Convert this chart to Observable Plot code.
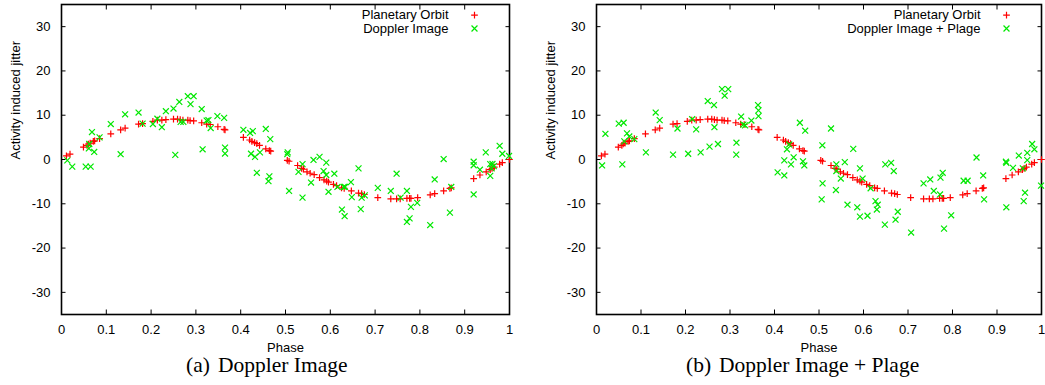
<!DOCTYPE html>
<html><head><meta charset="utf-8">
<script src="https://cdn.jsdelivr.net/npm/d3@7"></script>
<script src="https://cdn.jsdelivr.net/npm/@observablehq/plot@0.6"></script>
<style>
html,body{margin:0;padding:0;background:#fff;}
body{width:1045px;height:385px;overflow:hidden;position:relative;}
.panel{position:absolute;top:0;}
.cap{position:absolute;font-family:"Liberation Serif","Times New Roman",Times,serif;font-size:21.5px;line-height:21.5px;white-space:nowrap;color:#000;}
.cap span.t{position:absolute;top:0;}
</style></head><body>
<div id="pa" class="panel" style="left:0px"></div>
<div id="pb" class="panel" style="left:534px"></div>
<div id="ca" class="cap" style="left:186px;top:355px"></div>
<div id="cb" class="cap" style="left:686px;top:355px"></div>
<script>
// ---- tick labels ----
const xTicks = [0, 0.1, 0.2, 0.3, 0.4, 0.5, 0.6, 0.7, 0.8, 0.9, 1];
const xTickLabels = ["0", "0.1", "0.2", "0.3", "0.4", "0.5", "0.6", "0.7", "0.8", "0.9", "1"];
const yTicks = [-30, -20, -10, 0, 10, 20, 30];
const yTickLabels = ["-30", "-20", "-10", "0", "10", "20", "30"];
const xLabel = "Phase";
const yLabel = "Activity induced jitter";
const panelTags = ["(a)", "(b)"];
const panelTitles = ["Doppler Image", "Doppler Image + Plage"];
const legendA = ["Planetary Orbit", "Doppler Image"];
const legendB = ["Planetary Orbit", "Doppler Image + Plage"];

// ---- Planetary orbit (same in both panels) ----
const orbitPhase = [0.011,0.019,0.049,0.057,0.060,0.064,0.071,0.074,0.085,0.110,0.132,0.142,0.172,0.181,0.204,0.214,0.224,0.233,0.250,0.259,0.265,0.271,0.282,0.287,0.295,0.313,0.324,0.332,0.349,0.363,0.365,0.406,0.420,0.425,0.431,0.436,0.442,0.456,0.464,0.467,0.504,0.508,0.527,0.536,0.540,0.548,0.555,0.564,0.576,0.586,0.592,0.596,0.607,0.614,0.625,0.631,0.647,0.663,0.670,0.676,0.706,0.735,0.748,0.756,0.771,0.777,0.780,0.795,0.823,0.833,0.853,0.867,0.870,0.920,0.934,0.948,0.957,0.961,0.966,0.978,0.984,1.0];
const orbitJitter = [0.8,1.2,2.8,3.2,3.5,3.7,4.1,4.2,4.7,5.8,6.7,7.1,8.0,8.1,8.6,8.9,8.9,9.0,9.1,9.1,9.0,8.9,8.9,8.8,8.7,8.3,8.0,7.9,7.4,6.8,6.7,5.0,4.4,4.1,3.8,3.6,3.2,2.4,2.0,1.9,-0.2,-0.4,-1.35,-2.0,-2.2,-2.8,-3.1,-3.4,-4.1,-4.6,-4.9,-5.1,-5.6,-5.9,-6.4,-6.5,-7.1,-7.6,-7.7,-7.9,-8.6,-8.9,-8.9,-8.9,-8.8,-8.8,-8.8,-8.6,-8.0,-7.7,-7.1,-6.5,-6.4,-4.3,-3.5,-2.8,-2.3,-2.0,-1.7,-1.05,-0.7,0];

// ---- Doppler Image (panel a) ----
const dopplerPhase = [0.013,0.024,0.054,0.065,0.061,0.062,0.068,0.073,0.085,0.110,0.132,0.142,0.172,0.181,0.204,0.214,0.224,0.233,0.250,0.254,0.263,0.266,0.272,0.282,0.288,0.295,0.313,0.315,0.324,0.328,0.333,0.348,0.363,0.365,0.365,0.406,0.421,0.423,0.427,0.432,0.436,0.443,0.456,0.462,0.464,0.466,0.504,0.505,0.508,0.529,0.538,0.538,0.557,0.5625,0.576,0.585,0.591,0.591,0.596,0.609,0.616,0.626,0.630,0.632,0.633,0.646,0.648,0.663,0.668,0.670,0.677,0.706,0.735,0.748,0.757,0.771,0.771,0.777,0.780,0.794,0.823,0.833,0.853,0.867,0.870,0.920,0.920,0.920,0.934,0.947,0.957,0.957,0.960,0.962,0.965,0.978,0.984,0.999];
const dopplerJitter = [-0.2,-1.6,-1.6,-1.6,2.5,3.5,6.2,1.7,5.0,8.0,1.2,10.2,10.6,8.1,8.0,9.2,7.3,10.9,11.5,1.05,13.0,8.5,8.5,14.3,12.5,14.3,11.4,2.3,8.8,8.9,7.1,9.8,9.4,2.7,1.35,6.7,6.0,1.3,6.4,0.6,-3.0,1.6,6.9,-4.9,-3.8,4.6,1.2,1.6,-7.1,-2.8,-1.05,-8.6,-5.2,-0.1,0.6,-2.6,-0.7,-3.5,-7.3,-3.2,-6.2,-11.3,-6.2,-12.8,-6.2,-5.1,-8.5,-2.0,-11.2,-8.6,-8.1,-6.4,-7.1,-3.2,-8.6,-7.1,-14.1,-13.3,-10.7,-9.8,-14.8,-4.5,0.1,-12.0,-6.2,-7.9,-1.3,-0.5,-2.3,1.6,-1.05,-3.7,-2.0,-1.0,-1.5,3.1,1.3,0.8];

// ---- Doppler Image + Plage (panel b) ----
const plagePhase = [0.0126,0.020,0.050,0.058,0.061,0.0625,0.0685,0.0737,0.085,0.111,0.133,0.142,0.172,0.182,0.206,0.215,0.224,0.234,0.250,0.254,0.264,0.265,0.273,0.282,0.288,0.296,0.314,0.3145,0.325,0.330,0.334,0.348,0.363,0.364,0.364,0.407,0.422,0.422,0.428,0.433,0.437,0.443,0.457,0.464,0.467,0.469,0.506,0.5075,0.508,0.527,0.538,0.539,0.539,0.549,0.558,0.564,0.577,0.586,0.592,0.592,0.598,0.609,0.616,0.627,0.630,0.632,0.648,0.649,0.662,0.668,0.672,0.677,0.707,0.735,0.750,0.758,0.772,0.773,0.778,0.781,0.797,0.825,0.834,0.854,0.869,0.871,0.920,0.921,0.921,0.936,0.949,0.958,0.960,0.963,0.968,0.968,0.979,0.984,0.999];
const plageJitter = [-1.35,5.8,8.1,-1.1,8.3,4.1,5.9,5.2,4.6,1.6,10.6,8.9,1.1,7.0,1.3,9.1,6.8,1.6,13.2,2.9,12.3,7.3,3.5,15.9,14.4,15.9,1.1,3.8,9.7,7.9,7.7,8.8,12.3,11.1,9.8,-2.9,-3.6,-0.2,2.3,3.4,-1.1,0.5,8.3,-0.4,-1.35,6.5,-9.0,3.2,-5.4,7.0,-6.9,-1.1,-2.6,-4.3,-0.6,-10.2,2.4,-10.8,-2.0,-12.9,-4.3,-12.7,-6.5,-9.4,-11.3,-10.2,-14.7,-1.1,-0.75,-2.6,-13.6,-11.8,-16.5,-5.4,-4.5,-7.1,-7.9,-4.1,-3.0,-15.6,-12.6,-4.8,-4.8,0.45,-3.6,-9.0,-0.5,-0.75,-10.8,-1.9,0.9,-2.0,-9.4,-7.5,1.5,-0.15,3.5,2.3,-5.9];

const RED = "#ff0000";
const GREEN = "#00e800";
const FONT = '"Liberation Sans", Arial, Helvetica, sans-serif';

function table(px, py) { return px.map((p, i) => ({phase: p, jitter: py[i]})); }

function panel({width, marginLeft, marginRight, obs, legend}) {
  const orbit = table(orbitPhase, orbitJitter);
  const xFmt = new Map(xTicks.map((t, i) => [t, xTickLabels[i]]));
  const yFmt = new Map(yTicks.map((t, i) => [t, yTickLabels[i]]));
  const series = [
    {symbol: "plus", r: 2.3, color: RED},
    {symbol: "times", r: 2.8, color: GREEN}
  ];
  const legendMarks = legend.flatMap((lab, i) => [
    Plot.text([lab], {text: d => d, frameAnchor: "top-right", dx: -61, dy: 10.6 + 13.4 * i, textAnchor: "end", lineAnchor: "middle", fontSize: 13, fill: "black"}),
    Plot.dot([lab], {frameAnchor: "top-right", dx: -35, dy: 10.6 + 13.4 * i, symbol: series[i].symbol, r: series[i].r, stroke: series[i].color, strokeWidth: 1.2, fill: "none"})
  ]);
  return Plot.plot({
    width, height: 355, marginLeft, marginRight, marginTop: 4, marginBottom: 41,
    style: {fontFamily: FONT, fontSize: "13px", background: "white", color: "black", overflow: "visible"},
    x: {domain: [0, 1], label: null},
    y: {domain: [-35, 35], label: null},
    marks: [
      Plot.axisX({anchor: "bottom", ticks: xTicks, tickSize: 0, tickPadding: 10, tickFormat: d => xFmt.get(d), fontSize: 13, label: null}),
      Plot.axisX({anchor: "bottom", ticks: xTicks, tickSize: -4.5, tickFormat: () => "", label: null}),
      Plot.axisX({anchor: "top", ticks: xTicks, tickSize: -4.5, tickFormat: () => "", label: null}),
      Plot.axisY({anchor: "left", ticks: yTicks, tickSize: 0, tickPadding: 11, tickFormat: d => yFmt.get(d), fontSize: 13, label: null}),
      Plot.axisY({anchor: "left", ticks: yTicks, tickSize: -4.5, tickFormat: () => "", label: null}),
      Plot.axisY({anchor: "right", ticks: yTicks, tickSize: -4.5, tickFormat: () => "", label: null}),
      Plot.frame({stroke: "black", strokeWidth: 1.6}),
      Plot.text([xLabel], {text: d => d, frameAnchor: "bottom", dy: 33.2, lineAnchor: "middle", fontSize: 13, fill: "black"}),
      Plot.text([yLabel], {text: d => d, frameAnchor: "left", dx: -46, rotate: -90, lineAnchor: "middle", fontSize: 13, fill: "black"}),
      Plot.dot(orbit, {x: "phase", y: "jitter", symbol: "plus", r: 2.3, stroke: RED, strokeWidth: 1.2, fill: "none"}),
      Plot.dot(obs, {x: "phase", y: "jitter", symbol: "times", r: 2.8, stroke: GREEN, strokeWidth: 1.2, fill: "none"}),
      ...legendMarks
    ]
  });
}

document.getElementById("pa").append(panel({width: 522, marginLeft: 61, marginRight: 13, obs: table(dopplerPhase, dopplerJitter), legend: legendA}));
document.getElementById("pb").append(panel({width: 511, marginLeft: 62, marginRight: 4, obs: table(plagePhase, plageJitter), legend: legendB}));

function caption(el, tag, title, gapLeft) {
  const a = document.createElement("span"); a.className = "t"; a.style.left = "0px"; a.textContent = tag;
  const b = document.createElement("span"); b.className = "t"; b.style.left = gapLeft + "px"; b.textContent = title;
  el.append(a, b);
}
caption(document.getElementById("ca"), panelTags[0], panelTitles[0], 32);
caption(document.getElementById("cb"), panelTags[1], panelTitles[1], 33);
</script>
</body></html>
